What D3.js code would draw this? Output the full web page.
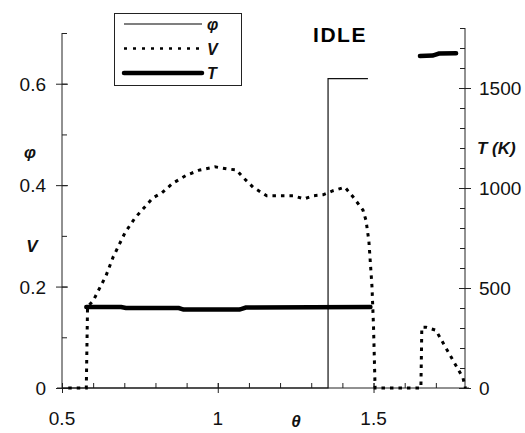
<!DOCTYPE html>
<html>
<head>
<meta charset="utf-8">
<script src="https://cdn.jsdelivr.net/npm/d3@7"></script>
<style>
  body { margin: 0; background: #fff; }
  svg { display: block; font-family: "Liberation Sans", Arial, sans-serif; }
  .axis path, .axis line { stroke: #222; stroke-width: 1; }
  .num { font-size: 19px; fill: #111; }
  .lab { font-size: 17px; font-weight: bold; font-style: italic; fill: #111; }
</style>
</head>
<body>
<div id="chart"></div>
<script>
// -------------------------------------------------------------------------- //
//                                 DATA                                       //
// -------------------------------------------------------------------------- //

var thetaTicks = [0.5, 1, 1.5];
var phiTicks   = [0, 0.2, 0.4, 0.6];
var tempTicks  = [0, 500, 1000, 1500];

// phi (thin line, left axis)
var phiTheta  = [0.5, 1.354, 1.354, 1.482];
var phiValues = [0, 0, 0.61, 0.61];

// V (dotted line, left axis)
var vTheta  = [0.52, 0.578, 0.582, 0.600, 0.615, 0.641, 0.664, 0.702, 0.734, 0.757,
               0.792, 0.821, 0.856, 0.901, 0.943, 0.991, 1.030, 1.060, 1.080, 1.113,
               1.157, 1.200, 1.242, 1.277, 1.306, 1.338, 1.370, 1.408, 1.434, 1.466,
               1.476, 1.485, 1.495, 1.500, 1.505, 1.560, 1.652, 1.655, 1.668, 1.700,
               1.787, 1.795];
var vValues = [0, 0, 0.160, 0.172, 0.190, 0.221, 0.258, 0.306, 0.335, 0.351,
               0.375, 0.385, 0.404, 0.420, 0.430, 0.436, 0.432, 0.430, 0.416, 0.396,
               0.379, 0.379, 0.379, 0.373, 0.379, 0.381, 0.389, 0.396, 0.377, 0.351,
               0.330, 0.290, 0.200, 0.120, 0, 0, 0, 0.120, 0.120, 0.114,
               0.020, 0];

// T (thick line, right axis), two pieces
var tempThetaA  = [0.578, 0.690, 0.705, 0.875, 0.890, 1.070, 1.090, 1.490];
var tempValuesA = [405, 405, 400, 400, 392, 392, 402, 405];
var tempThetaB  = [1.649, 1.690, 1.710, 1.765];
var tempValuesB = [1660, 1662, 1672, 1674];

var legendNames = ["\u03c6", "V", "T"];

// -------------------------------------------------------------------------- //
//                                 CHART                                      //
// -------------------------------------------------------------------------- //

var W = 525, H = 433;
var svg = d3.select("#chart").append("svg")
    .attr("width", W).attr("height", H);

var x  = d3.scaleLinear().domain([0.5, 1.8]).range([62, 467]);
var y  = d3.scaleLinear().domain([0, 0.7]).range([388, 33]);
var yT = d3.scaleLinear().domain([0, 1800]).range([388, 28]);

function zip (xs, ys) {
    return xs.map(function (d, i) { return [d, ys[i]]; });
}

// minor ticks
function minor (lo, hi, step) {
    return d3.range(Math.round((hi - lo) / step) + 1).map(function (i) { return lo + i * step; });
}

// x axis: minor ticks point up, major ticks cross
svg.append("line")
    .attr("x1", 57).attr("x2", 469).attr("y1", y(0)).attr("y2", y(0))
    .attr("stroke", "#222");
svg.append("g").attr("class", "axis")
  .attr("transform", "translate(0," + y(0) + ")")
  .call(d3.axisTop(x).tickValues(minor(0.6, 1.7, 0.1)).tickSize(5).tickFormat(""))
  .select(".domain").remove();
svg.append("g").attr("class", "axis")
  .attr("transform", "translate(0," + (y(0) + 5) + ")")
  .call(d3.axisTop(x).tickValues(thetaTicks).tickSize(10).tickFormat(""))
  .select(".domain").remove();
svg.selectAll(".xnum").data(thetaTicks).enter().append("text")
  .attr("class", "num")
  .attr("x", function (d) { return x(d); })
  .attr("y", 425)
  .attr("text-anchor", "middle")
  .text(function (d) { return d; });

// left axis
svg.append("line")
    .attr("x1", x(0.5)).attr("x2", x(0.5)).attr("y1", y(0.7)).attr("y2", y(0))
    .attr("stroke", "#222");
svg.append("g").attr("class", "axis")
  .attr("transform", "translate(" + x(0.5) + ",0)")
  .call(d3.axisRight(y).tickValues(minor(0.1, 0.7, 0.1)).tickSize(5).tickFormat(""))
  .select(".domain").remove();
svg.append("g").attr("class", "axis")
  .attr("transform", "translate(" + (x(0.5) - 6) + ",0)")
  .call(d3.axisRight(y).tickValues(phiTicks).tickSize(12).tickFormat(""))
  .select(".domain").remove();
svg.selectAll(".ynum").data(phiTicks).enter().append("text")
  .attr("class", "num")
  .attr("x", 46)
  .attr("y", function (d) { return y(d) + 7; })
  .attr("text-anchor", "end")
  .text(function (d) { return d; });

// right axis
var xr = x(1.8) - 2;
svg.append("line")
    .attr("x1", xr).attr("x2", xr).attr("y1", yT(1800)).attr("y2", yT(0))
    .attr("stroke", "#222");
svg.append("g").attr("class", "axis")
  .attr("transform", "translate(" + xr + ",0)")
  .call(d3.axisLeft(yT).tickValues(minor(100, 1800, 100)).tickSize(5).tickFormat(""))
  .select(".domain").remove();
svg.append("g").attr("class", "axis")
  .attr("transform", "translate(" + (xr + 6) + ",0)")
  .call(d3.axisLeft(yT).tickValues(tempTicks).tickSize(12).tickFormat(""))
  .select(".domain").remove();
svg.selectAll(".tnum").data(tempTicks).enter().append("text")
  .attr("class", "num")
  .attr("x", xr + 14)
  .attr("y", function (d) { return yT(d) + 7; })
  .text(function (d) { return d; });

// axis titles
svg.append("text").attr("class", "lab").attr("x", 30).attr("y", 158)
  .attr("text-anchor", "middle").text("\u03c6");
svg.append("text").attr("class", "lab").attr("x", 32).attr("y", 252)
  .attr("text-anchor", "middle").text("V");
svg.append("text").attr("class", "lab").attr("x", 296).attr("y", 427)
  .attr("text-anchor", "middle").text("\u03b8");
svg.append("text").attr("class", "lab").attr("x", xr + 12).attr("y", 154)
  .text("T (K)");

// title
svg.append("text").attr("x", 340).attr("y", 42)
  .attr("text-anchor", "middle")
  .style("font-size", "21px").style("font-weight", "bold")
  .style("letter-spacing", "1.5px")
  .text("IDLE");

// series
var lineL = d3.line().x(function (d) { return x(d[0]); }).y(function (d) { return y(d[1]); });
var lineR = d3.line().x(function (d) { return x(d[0]); }).y(function (d) { return yT(d[1]); });

svg.append("path")
  .datum(zip(phiTheta, phiValues))
  .attr("fill", "none").attr("stroke", "#111").attr("stroke-width", 1.2)
  .attr("d", lineL);

svg.append("path")
  .datum(zip(vTheta, vValues))
  .attr("fill", "none").attr("stroke", "#000").attr("stroke-width", 3)
  .attr("stroke-dasharray", "3.5,5")
  .attr("d", lineL);

[[tempThetaA, tempValuesA], [tempThetaB, tempValuesB]].forEach(function (s) {
  svg.append("path")
    .datum(zip(s[0], s[1]))
    .attr("fill", "none").attr("stroke", "#000").attr("stroke-width", 4.5)
    .attr("stroke-linecap", "round")
    .attr("d", lineR);
});

// legend
var lg = svg.append("g");
lg.append("rect").attr("x", 114.5).attr("y", 13.5).attr("width", 127).attr("height", 72)
  .attr("fill", "#fff").attr("stroke", "#222").attr("stroke-width", 1);
var legendStyle = [
  { w: 1.2, dash: null },
  { w: 2.6, dash: "3,6" },
  { w: 4.5, dash: null }
];
var legendY = d3.scalePoint().domain(legendNames).range([24, 73]);
legendNames.forEach(function (n, i) {
  lg.append("line")
    .attr("x1", 124).attr("x2", 202)
    .attr("y1", legendY(n)).attr("y2", legendY(n))
    .attr("stroke", "#000").attr("stroke-width", legendStyle[i].w)
    .attr("stroke-dasharray", legendStyle[i].dash)
    .attr("stroke-linecap", i == 2 ? "round" : "butt");
  lg.append("text").attr("class", "lab")
    .style("font-size", "16px")
    .attr("x", 207).attr("y", legendY(n) + 6)
    .text(n);
});
</script>
</body>
</html>
